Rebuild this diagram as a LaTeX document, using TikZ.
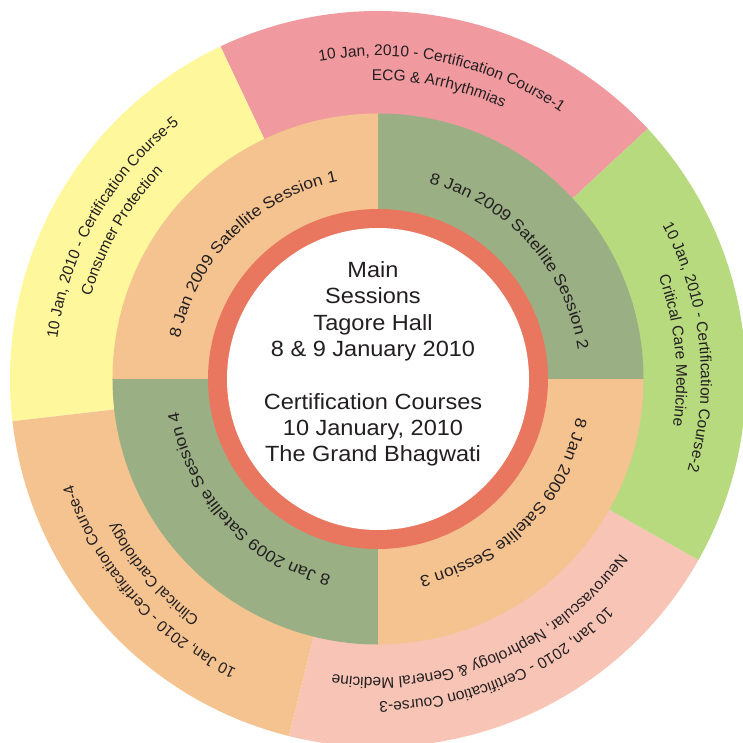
\documentclass[tikz,border=0pt]{standalone}
\usepackage{fontspec}
\usetikzlibrary{decorations.text}
\newfontfamily\lib{Liberation Sans}
\newfontfamily\libwide[FakeStretch=1.1]{Liberation Sans}
\definecolor{pinkA}{HTML}{F09AA0}
\definecolor{yel}{HTML}{FFF79B}
\definecolor{peach}{HTML}{F5C390}
\definecolor{pinkB}{HTML}{F7C4B6}
\definecolor{lgreen}{HTML}{B8DA7E}
\definecolor{sage}{HTML}{9AAF84}
\definecolor{ringred}{HTML}{E97760}
\definecolor{txt}{HTML}{231F20}
\newcommand\outerfont{\lib\fontsize{15.5bp}{18bp}\selectfont\color{txt}}
\newcommand\midfont{\libwide\fontsize{16bp}{19bp}\selectfont\color{txt}}
% #1 radius, #2 mid angle, #3 format, #4 text
\newcommand\arclabel[4]{%
  \path[decorate,decoration={text along path,text align=center,text={|#3|#4}}]
    (#2+80:#1) arc[start angle=#2+80,end angle=#2-80,radius=#1];}
\begin{document}
\begin{tikzpicture}[x=1bp,y=1bp]
\useasboundingbox (-378,-364) rectangle (365,379);
\fill[white] (-378,-364) rectangle (365,379);
\clip (-378,-364) rectangle (365,379);
% outer ring
\fill[pinkA] (0,0) -- (42.85:368) arc[start angle=42.85,end angle=115.35,radius=368] -- cycle;
\fill[yel] (0,0) -- (115.35:368) arc[start angle=115.35,end angle=186.6,radius=368] -- cycle;
\fill[peach] (0,0) -- (186.6:368) arc[start angle=186.6,end angle=256,radius=368] -- cycle;
\fill[pinkB] (0,0) -- (256:368) arc[start angle=256,end angle=330.55,radius=368] -- cycle;
\fill[lgreen] (0,0) -- (-29.45:368) arc[start angle=-29.45,end angle=42.85,radius=368] -- cycle;
% middle ring
\fill[sage] (0,0) -- (0:265.5) arc[start angle=0,end angle=90,radius=265.5] -- cycle;
\fill[peach] (0,0) -- (90:265.5) arc[start angle=90,end angle=180,radius=265.5] -- cycle;
\fill[sage] (0,0) -- (180:265.5) arc[start angle=180,end angle=270,radius=265.5] -- cycle;
\fill[peach] (0,0) -- (270:265.5) arc[start angle=270,end angle=360,radius=265.5] -- cycle;
% inner rings
\fill[ringred] (0,0) circle[radius=170];
\fill[white] (0,0) circle[radius=151];
% middle ring labels
\arclabel{202}{135}{\midfont}{8 Jan 2009 Satellite Session 1}
\arclabel{202}{41.8}{\midfont}{8 Jan 2009 Satellite Session 2}
\arclabel{202}{-44.6}{\midfont}{8 Jan 2009 Satellite Session 3}
\arclabel{202}{223}{\midfont}{8 Jan 2009 Satellite Session 4}
% outer ring labels
\arclabel{323}{78.0}{\outerfont}{10 Jan, 2010 - Certification Course-1}
\arclabel{298.5}{78.2}{\outerfont}{ECG {\&} Arrhythmias}
\arclabel{323}{5.9}{\outerfont}{10 Jan, 2010 - Certification Course-2}
\arclabel{298.5}{5.5}{\outerfont}{Critical Care Medicine}
\arclabel{323}{-67.3}{\outerfont}{10 Jan, 2010 - Certification Course-3}
\arclabel{298.5}{-67.3}{\outerfont}{Neurovascular, Nephrology {\&} General Medicine}
\arclabel{323}{221.6}{\outerfont}{10 Jan, 2010 - Certification Course-4}
\arclabel{298.5}{221}{\outerfont}{Clinical Cardiology}
\arclabel{323}{150.4}{\outerfont}{10 Jan, 2010 - Certification Course-5}
\arclabel{298.5}{150}{\outerfont}{Consumer Protection}
% centre text
\node (centre) [align=center, inner sep=0pt, text=txt,
  font=\lib\fontsize{22bp}{26.3bp}\selectfont, xscale=1.07, transform shape]
  at (-5,15) {Main\\Sessions\\Tagore Hall\\8 \& 9 January 2010\\[26.3bp]Certification Courses\\10 January, 2010\\The Grand Bhagwati};
\end{tikzpicture}
\end{document}
